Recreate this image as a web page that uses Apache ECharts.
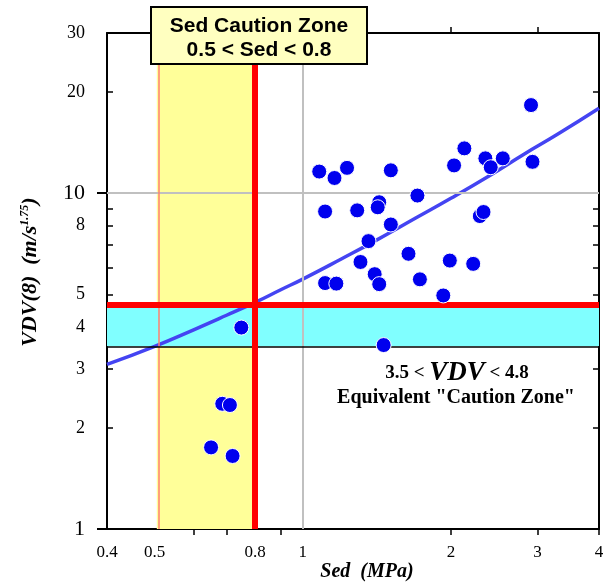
<!DOCTYPE html>
<html>
<head>
<meta charset="utf-8">
<script src="https://cdn.jsdelivr.net/npm/echarts@6/dist/echarts.min.js"></script>
<style>
  html, body { margin: 0; padding: 0; background: #fff; }
  #chart { width: 608px; height: 583px; }
</style>
</head>
<body>
<div id="chart"></div>
<script>
// measured points, Sed (MPa) vs VDV(8)
const sed = [0.75, 0.686, 0.711, 0.651, 0.72,
  1.08, 1.16, 1.23, 1.51, 1.71, 2.03, 2.13, 2.35, 2.41, 2.55, 2.91, 2.93,
  1.11, 1.29, 1.43, 1.42, 2.29, 2.33, 1.51, 1.36, 1.64, 1.99, 2.22,
  1.31, 1.40, 1.43, 1.73, 1.11, 1.17, 1.93, 1.46]
const vdv = [3.98, 2.36, 2.34, 1.75, 1.65,
  11.6, 11.1, 11.9, 11.7, 9.84, 12.1, 13.6, 12.7, 11.95, 12.7, 18.3, 12.4,
  8.82, 8.89, 9.40, 9.08, 8.55, 8.79, 8.07, 7.20, 6.60, 6.30, 6.16,
  6.24, 5.74, 5.36, 5.54, 5.40, 5.38, 4.96, 3.53]
// regression curve
const fitSed = [0.4, 0.5, 0.6, 0.7, 0.8, 0.9, 1, 1.2, 1.4, 1.7, 2, 2.4, 2.8, 3.3, 4]
const fitVdv = [3.09, 3.50, 3.92, 4.33, 4.73, 5.15, 5.55, 6.38, 7.2, 8.45, 9.66, 11.3, 13.0, 15.0, 17.9]
// zones
const sedZone = [0.505, 0.803]
const vdvZone = [3.5, 4.66]
// ticks
const xLabels = [0.4, 0.5, 0.8, 1, 2, 3, 4]
const xTicks = [0.6, 0.7, 0.9, 2, 3, 4]
const yLabels = [1, 2, 3, 4, 5, 8, 10, 20, 30]
const yTicks = [2, 3, 4, 5, 6, 7, 8, 9, 20]

const serif = 'Liberation Serif'

const chart = echarts.init(document.getElementById('chart'))

function logX(pos, extra) {
  return Object.assign({
    type: 'log', logBase: 10, min: 0.4, max: 4, position: pos,
    axisLine: { show: true, lineStyle: { color: '#000', width: 2 } },
    axisTick: { show: false },
    axisLabel: { show: false },
    splitLine: { show: false },
    minorTick: { show: false },
  }, extra)
}
function logY(pos, extra) {
  return Object.assign({
    type: 'log', logBase: 10, min: 1, max: 30, position: pos,
    axisLine: { show: true, lineStyle: { color: '#000', width: 2 } },
    axisTick: { show: false },
    axisLabel: { show: false },
    splitLine: { show: false },
    minorTick: { show: false },
  }, extra)
}

chart.setOption({
  animation: false,
  backgroundColor: '#fff',
  grid: { left: 107, right: 9, top: 33, bottom: 54 },
  xAxis: [
    logX('bottom', {
      axisTick: { show: true, inside: false, length: 6, customValues: xTicks, lineStyle: { color: '#000', width: 1.5 } },
      axisLabel: {
        show: true, customValues: xLabels, margin: 15,
        color: '#000', fontFamily: serif, fontSize: 17,
        formatter: v => String(+(+v).toPrecision(3)),
      },
    }),
    logX('top', {
      axisTick: { show: true, inside: false, length: 6, customValues: [2, 3], lineStyle: { color: '#000', width: 1.5 } },
    }),
    logX('bottom', {
      axisLine: { show: false },
      axisTick: { show: true, inside: true, length: 9, customValues: [1], lineStyle: { color: '#000', width: 2 } },
    }),
  ],
  yAxis: [
    logY('left', {
      axisTick: { show: true, inside: true, length: 6, customValues: yTicks, lineStyle: { color: '#000', width: 1.5 } },
      axisLabel: {
        show: true, customValues: yLabels, margin: 22,
        formatter: v => {
          const n = +(+v).toPrecision(3)
          return (n === 1 || n === 10) ? '{b|' + n + '}' : '{a|' + n + '}'
        },
        rich: {
          a: { color: '#000', fontFamily: serif, fontSize: 18 },
          b: { color: '#000', fontFamily: serif, fontSize: 22 },
        },
      },
    }),
    logY('right', {
      axisTick: { show: true, inside: true, length: 6, customValues: yTicks, lineStyle: { color: '#000', width: 1.5 } },
    }),
    logY('left', {
      axisLine: { show: false },
      axisTick: { show: true, inside: false, length: 10, customValues: [1, 10], lineStyle: { color: '#000', width: 2 } },
    }),
    logY('left', {
      axisLine: { show: false },
      axisTick: { show: true, inside: true, length: 10, customValues: [1, 10], lineStyle: { color: '#000', width: 2 } },
    }),
  ],
  series: [
    {
      // shaded zones
      type: 'line', data: [], silent: true, z: 1,
      markArea: {
        silent: true,
        data: [
          [{ xAxis: sedZone[0], yAxis: 1, itemStyle: { color: '#ffff99' } }, { xAxis: sedZone[1], yAxis: 30 }],
          [{ xAxis: 0.4, yAxis: vdvZone[0], itemStyle: { color: '#80ffff' } }, { xAxis: 4, yAxis: vdvZone[1] }],
        ],
      },
    },
    {
      // grid cross + thin zone edges
      type: 'line', data: [], silent: true, z: 2,
      markLine: {
        silent: true, symbol: 'none', label: { show: false },
        data: [
          { xAxis: 1, lineStyle: { color: '#c0c0c0', width: 2, type: 'solid' } },
          { yAxis: 10, lineStyle: { color: '#c0c0c0', width: 2, type: 'solid' } },
          { xAxis: sedZone[0], lineStyle: { color: '#ff8070', width: 1.5, type: 'solid' } },
          { yAxis: vdvZone[0], lineStyle: { color: '#000', width: 1.5, type: 'solid' } },
        ],
      },
    },
    {
      // red limit lines
      type: 'line', data: [], silent: true, z: 3,
      markLine: {
        silent: true, symbol: 'none', label: { show: false },
        lineStyle: { color: '#ff0000', width: 6, type: 'solid' },
        data: [{ xAxis: sedZone[1] }, { yAxis: vdvZone[1] }],
      },
    },
    {
      name: 'fit',
      type: 'line', z: 4,
      data: fitSed.map((x, i) => [x, fitVdv[i]]),
      showSymbol: false, symbol: 'none', smooth: true,
      lineStyle: { color: '#4444f2', width: 3.5 },
    },
    {
      name: 'data',
      type: 'scatter', z: 5,
      data: sed.map((x, i) => [x, vdv[i]]),
      symbol: 'circle', symbolSize: 15,
      itemStyle: { color: '#0000ee', borderColor: '#fff', borderWidth: 1, opacity: 1 },
    },
  ],
  graphic: [
    {
      type: 'rect', z: 100, zlevel: 1,
      shape: { x: 151, y: 7, width: 216, height: 57 },
      style: { fill: '#ffffc0', stroke: '#000', lineWidth: 2 },
    },
    {
      type: 'text', x: 259, y: 38, z: 101, zlevel: 1,
      style: {
        text: 'Sed Caution Zone\n0.5 < Sed < 0.8',
        font: 'bold 21px "Liberation Sans"', fill: '#000',
        align: 'center', verticalAlign: 'middle', lineHeight: 24,
      },
    },
    {
      type: 'text', x: 457, y: 373, z: 100, zlevel: 1,
      style: {
        text: '{a|3.5 < }{v|VDV}{a| < 4.8}',
        align: 'center', verticalAlign: 'middle',
        rich: {
          a: { font: 'bold 19px "Liberation Serif"', fill: '#000' },
          v: { font: 'italic bold 27px "Liberation Serif"', fill: '#000' },
        },
      },
    },
    {
      type: 'text', x: 456, y: 398, z: 100, zlevel: 1,
      style: {
        text: 'Equivalent "Caution Zone"',
        font: 'bold 20px "Liberation Serif"', fill: '#000',
        align: 'center', verticalAlign: 'middle',
      },
    },
    {
      type: 'text', x: 367, y: 572, z: 100, zlevel: 1,
      style: {
        text: 'Sed  (MPa)',
        font: 'italic bold 20px "Liberation Serif"', fill: '#000',
        align: 'center', verticalAlign: 'middle',
      },
    },
    {
      type: 'text', x: 30, y: 272, z: 100, zlevel: 1, rotation: Math.PI / 2,
      style: {
        text: '{i|VDV(8)  (m/s}{s|1.75}{i|)}',
        align: 'center', verticalAlign: 'middle',
        rich: {
          i: { font: 'italic bold 22px "Liberation Serif"', fill: '#000' },
          s: { font: 'italic bold 12px "Liberation Serif"', fill: '#000', verticalAlign: 'top' },
        },
      },
    },
  ],
})
</script>
</body>
</html>
